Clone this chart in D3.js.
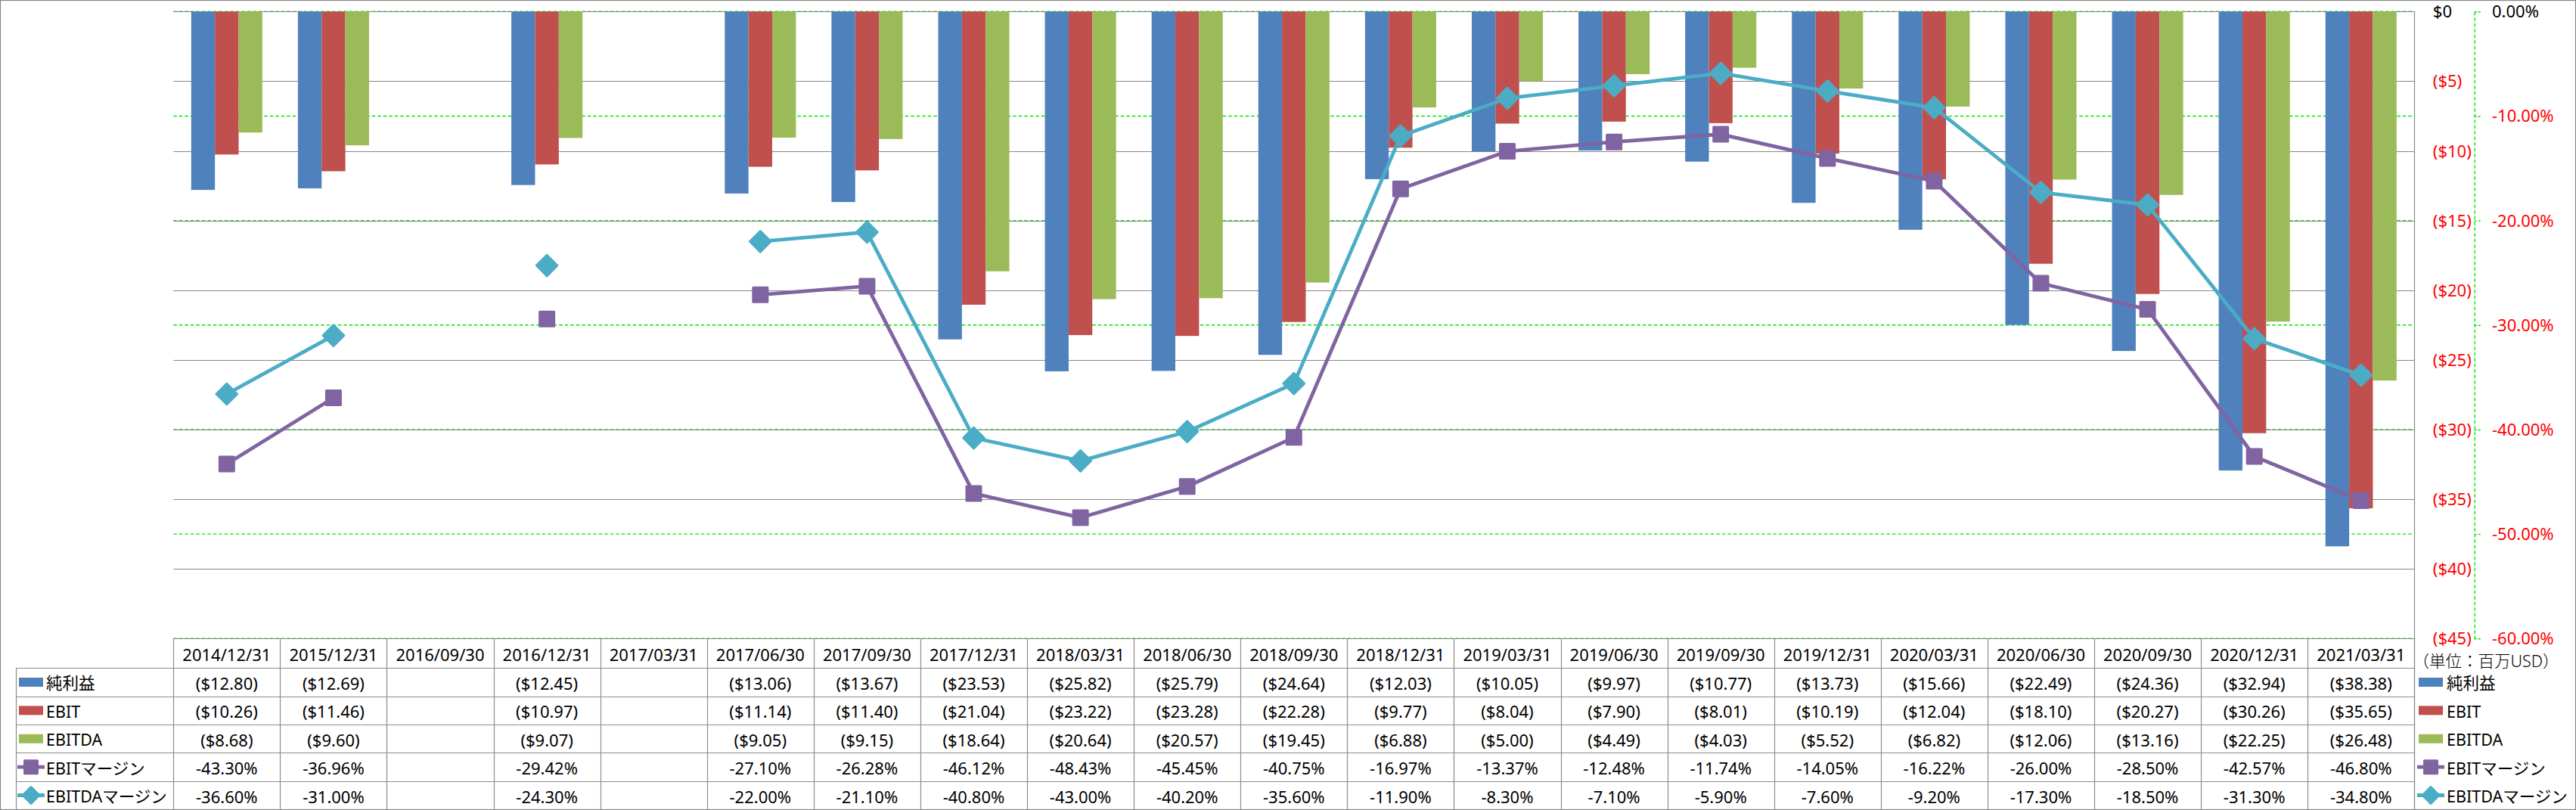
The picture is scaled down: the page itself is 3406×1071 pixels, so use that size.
<!DOCTYPE html>
<html>
<head>
<meta charset="utf-8">
<script src="https://cdn.jsdelivr.net/npm/d3@7"></script>
<style>
  html, body { margin: 0; padding: 0; background: #fff; }
  svg { display: block; }
  text { font-family: "Noto Sans", "Noto Sans CJK JP", sans-serif; }
</style>
</head>
<body>
<svg id="chart" width="3406" height="1071"></svg>
<script>
// ---------------- DATA ----------------
const categories = ["2014/12/31","2015/12/31","2016/09/30","2016/12/31","2017/03/31","2017/06/30","2017/09/30",
  "2017/12/31","2018/03/31","2018/06/30","2018/09/30","2018/12/31","2019/03/31","2019/06/30","2019/09/30",
  "2019/12/31","2020/03/31","2020/06/30","2020/09/30","2020/12/31","2021/03/31"];
const netIncome = [-12.80,-12.69,null,-12.45,null,-13.06,-13.67,-23.53,-25.82,-25.79,-24.64,-12.03,-10.05,-9.97,-10.77,-13.73,-15.66,-22.49,-24.36,-32.94,-38.38];
const ebit      = [-10.26,-11.46,null,-10.97,null,-11.14,-11.40,-21.04,-23.22,-23.28,-22.28,-9.77,-8.04,-7.90,-8.01,-10.19,-12.04,-18.10,-20.27,-30.26,-35.65];
const ebitda    = [-8.68,-9.60,null,-9.07,null,-9.05,-9.15,-18.64,-20.64,-20.57,-19.45,-6.88,-5.00,-4.49,-4.03,-5.52,-6.82,-12.06,-13.16,-22.25,-26.48];
const ebitMargin   = [-43.30,-36.96,null,-29.42,null,-27.10,-26.28,-46.12,-48.43,-45.45,-40.75,-16.97,-13.37,-12.48,-11.74,-14.05,-16.22,-26.00,-28.50,-42.57,-46.80];
const ebitdaMargin = [-36.60,-31.00,null,-24.30,null,-22.00,-21.10,-40.80,-43.00,-40.20,-35.60,-11.90,-8.30,-7.10,-5.90,-7.60,-9.20,-17.30,-18.50,-31.30,-34.80];
const usdTicks = [0,-5,-10,-15,-20,-25,-30,-35,-40,-45];
const pctTicks = [0,-10,-20,-30,-40,-50,-60];
const seriesNames = ["純利益","EBIT","EBITDA","EBITマージン","EBITDAマージン"];
const unitLabel = "（単位：百万USD）";

// ---------------- LAYOUT ----------------
const W = 3406, H = 1071;
const plotLeft = 229.3, plotRight = 3192.3, plotTop = 15.3, plotBottom = 844.3;
const tableBottom = 1070.2, labelColLeft = 20.7;
const headerBottom = 883.3;
const rowH = (tableBottom - headerBottom) / 5;
const colors = ["#4F81BD","#C0504D","#9BBB59","#8064A2","#4BACC6"];
const gridGray = "#878787";
const greenDash = "#00E600";

const svg = d3.select("#chart");

const x = d3.scaleBand().domain(categories).range([plotLeft, plotRight]).paddingInner(0).paddingOuter(0);
const band = x.bandwidth();
const groupW = band * 3 / 4.5;
const xs = d3.scaleBand().domain(seriesNames.slice(0,3)).range([0, groupW]);
const groupOff = (band - groupW) / 2;

const y0 = d3.scaleLinear().domain([0, -45]).range([plotTop, plotBottom]);
const y1 = d3.scaleLinear().domain([0, -60]).range([plotTop, plotBottom]);

// secondary (percent) gridlines, green dashed, below everything
svg.append("g").selectAll("line").data(pctTicks).join("line")
  .attr("x1", plotLeft).attr("x2", plotRight)
  .attr("y1", d => y1(d)).attr("y2", d => y1(d))
  .attr("stroke", greenDash).attr("stroke-width", 1.4).attr("stroke-dasharray", "4.5,3");

// primary gridlines, gray
svg.append("g").selectAll("line").data(usdTicks).join("line")
  .attr("x1", plotLeft).attr("x2", plotRight)
  .attr("y1", d => Math.round(y0(d)) + 0.5).attr("y2", d => Math.round(y0(d)) + 0.5)
  .attr("stroke", gridGray).attr("stroke-width", 1.2);

// bars
const barSeries = [netIncome, ebit, ebitda];
barSeries.forEach((vals, si) => {
  svg.append("g").selectAll("rect")
    .data(categories.map((c, i) => ({c, v: vals[i]})).filter(d => d.v != null))
    .join("rect")
    .attr("x", d => x(d.c) + groupOff + xs(seriesNames[si]))
    .attr("width", xs.bandwidth())
    .attr("y", y0(0))
    .attr("height", d => y0(d.v) - y0(0))
    .attr("fill", colors[si]);
});

// lines
function drawLine(vals, color, markerType) {
  const pts = categories.map((c, i) => ({c, v: vals[i]}));
  const line = d3.line().defined(d => d.v != null)
    .x(d => x(d.c) + band / 2).y(d => y1(d.v));
  svg.append("path").datum(pts).attr("d", line)
    .attr("fill", "none").attr("stroke", color).attr("stroke-width", 4.8)
    .attr("stroke-linejoin", "round");
  const g = svg.append("g");
  pts.filter(d => d.v != null).forEach(d => {
    const cx = x(d.c) + band / 2, cy = y1(d.v);
    if (markerType === "square") {
      g.append("rect").attr("x", cx - 9.5).attr("y", cy - 9.5).attr("width", 19).attr("height", 19)
        .attr("fill", color).attr("stroke", color).attr("stroke-width", 3).attr("stroke-linejoin", "round");
    } else {
      const r = 13.8;
      g.append("path").attr("d", `M${cx},${cy - r}L${cx + r},${cy}L${cx},${cy + r}L${cx - r},${cy}Z`)
        .attr("fill", color).attr("stroke", color).attr("stroke-width", 3).attr("stroke-linejoin", "round");
    }
  });
}
drawLine(ebitMargin, colors[3], "square");
drawLine(ebitdaMargin, colors[4], "diamond");

// primary axis (right side), labels only
const fmtUsd = v => v === 0 ? "$0" : "($" + (-v) + ")";
const axUsd = svg.append("g").attr("transform", `translate(${plotRight},0)`)
  .call(d3.axisRight(y0).tickValues(usdTicks).tickFormat(fmtUsd).tickSize(0).tickPadding(24.5));
axUsd.select(".domain").remove();
axUsd.selectAll("text").attr("font-size", 22).attr("font-family", "Noto Sans")
  .attr("fill", d => d < 0 ? "#FF0000" : "#000").attr("dy", "0.34em");

// secondary axis (percent)
const fmtPct = v => v.toFixed(2) + "%";
const axPct = svg.append("g").attr("transform", `translate(3271.7,0)`)
  .call(d3.axisRight(y1).tickValues(pctTicks).tickFormat(fmtPct).tickSize(8).tickSizeOuter(0).tickPadding(15.3));
axPct.select(".domain").attr("stroke", greenDash).attr("stroke-width", 1.4).attr("stroke-dasharray", "4.5,3");
axPct.selectAll(".tick line").attr("stroke", greenDash).attr("stroke-width", 1.4).attr("stroke-dasharray", "3,2");
axPct.selectAll("text").attr("font-size", 22).attr("font-family", "Noto Sans")
  .attr("fill", d => d < 0 ? "#FF0000" : "#000").attr("dy", "0.34em");

// unit label
svg.append("text").attr("x", 3287).attr("y", 873).attr("text-anchor", "middle")
  .attr("dominant-baseline", "central").attr("font-size", 21.5)
  .attr("font-family", "Noto Sans CJK JP").attr("font-weight", 300)
  .text(unitLabel);

// ---------------- DATA TABLE ----------------
const tg = svg.append("g");
const tableLine = "#8C8C8C";
// horizontal lines
for (let r = 0; r <= 5; r++) {
  const yy = headerBottom + r * rowH;
  tg.append("line").attr("x1", labelColLeft).attr("x2", plotRight)
    .attr("y1", Math.round(yy) + 0.5).attr("y2", Math.round(yy) + 0.5)
    .attr("stroke", tableLine).attr("stroke-width", 1.2);
}
// vertical lines between categories
const bounds = categories.map(c => x(c)).concat([plotRight]);
tg.selectAll("line.v").data(bounds).join("line").attr("class", "v")
  .attr("x1", d => Math.round(d) + 0.5).attr("x2", d => Math.round(d) + 0.5)
  .attr("y1", plotBottom).attr("y2", tableBottom)
  .attr("stroke", tableLine).attr("stroke-width", 1.2);
// plot right border
tg.append("line").attr("x1", Math.round(plotRight) + 0.5).attr("x2", Math.round(plotRight) + 0.5)
  .attr("y1", plotTop).attr("y2", tableBottom).attr("stroke", tableLine).attr("stroke-width", 1.2);
// label column left border
tg.append("line").attr("x1", Math.round(labelColLeft) + 0.5).attr("x2", Math.round(labelColLeft) + 0.5)
  .attr("y1", headerBottom).attr("y2", tableBottom).attr("stroke", tableLine).attr("stroke-width", 1.2);

// header labels
tg.selectAll("text.h").data(categories).join("text").attr("class", "h")
  .attr("x", d => x(d) + band / 2).attr("y", (plotBottom + headerBottom) / 2 + 1)
  .attr("text-anchor", "middle").attr("dominant-baseline", "central")
  .attr("font-size", 22).attr("fill", "#000").text(d => d);

const fmtMoney = v => v == null ? "" : "($" + (-v).toFixed(2) + ")";
const fmtPctT = v => v == null ? "" : v.toFixed(2) + "%";
const rows = [
  {vals: netIncome, fmt: fmtMoney},
  {vals: ebit, fmt: fmtMoney},
  {vals: ebitda, fmt: fmtMoney},
  {vals: ebitMargin, fmt: fmtPctT},
  {vals: ebitdaMargin, fmt: fmtPctT}
];
rows.forEach((row, ri) => {
  const cy = headerBottom + (ri + 0.5) * rowH + 1;
  tg.append("g").selectAll("text").data(categories.map((c, i) => ({c, v: row.vals[i]})))
    .join("text")
    .attr("x", d => x(d.c) + band / 2).attr("y", cy)
    .attr("text-anchor", "middle").attr("dominant-baseline", "central")
    .attr("font-size", 22).attr("fill", "#000").text(d => row.fmt(d.v));
});

// legend keys (table left column and right legend)
function legendKey(g, x0, cy, si) {
  if (si < 3) {
    g.append("rect").attr("x", x0).attr("y", cy - 6).attr("width", 32).attr("height", 12).attr("fill", colors[si]);
  } else {
    g.append("line").attr("x1", x0 - 2).attr("x2", x0 + 34).attr("y1", cy).attr("y2", cy)
      .attr("stroke", colors[si]).attr("stroke-width", 4.8);
    const cx = x0 + 16;
    if (si === 3) {
      g.append("rect").attr("x", cx - 8.5).attr("y", cy - 8.5).attr("width", 17).attr("height", 17)
        .attr("fill", colors[si]).attr("stroke", colors[si]).attr("stroke-width", 3).attr("stroke-linejoin", "round");
    } else {
      const r = 11;
      g.append("path").attr("d", `M${cx},${cy - r}L${cx + r},${cy}L${cx},${cy + r}L${cx - r},${cy}Z`)
        .attr("fill", colors[si]).attr("stroke", colors[si]).attr("stroke-width", 3).attr("stroke-linejoin", "round");
    }
  }
}
seriesNames.forEach((name, si) => {
  const cy = headerBottom + (si + 0.5) * rowH;
  legendKey(tg, 25, cy, si);
  tg.append("text").attr("x", 61).attr("y", cy + 1).attr("dominant-baseline", "central")
    .attr("font-size", 21.5).attr("fill", "#000").text(name);
  legendKey(tg, 3198, cy, si);
  tg.append("text").attr("x", 3235).attr("y", cy + 1).attr("dominant-baseline", "central")
    .attr("font-size", 21.5).attr("fill", "#000").text(name);
});

// outer chart border
svg.append("rect").attr("x", 0.5).attr("y", 0.5).attr("width", W - 1).attr("height", H - 1)
  .attr("fill", "none").attr("stroke", "#878787").attr("stroke-width", 1.2);
</script>
</body>
</html>
